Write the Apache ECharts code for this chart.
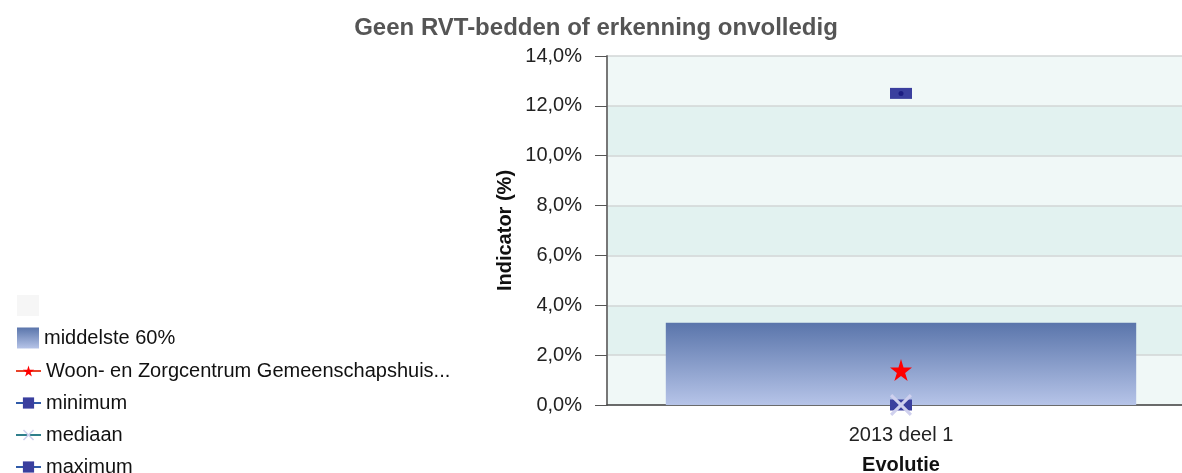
<!DOCTYPE html>
<html>
<head>
<meta charset="utf-8">
<script src="https://cdn.jsdelivr.net/npm/echarts@6/dist/echarts.min.js"></script>
<style>
  html, body { margin: 0; padding: 0; background: #fff; overflow: hidden; }
  #chart { width: 1182px; height: 473px; }
</style>
</head>
<body>
<div id="chart"></div>
<script>
// categorieën en waarden (in %)
const categories = ['2013 deel 1'];
const basis = [0];
const middelste60 = [3.3];
const instelling = [1.4];
const minimum = [0];
const mediaan = [0];
const maximum = [12.5];

const FONT = '"Liberation Sans", Arial, sans-serif';
const STAR = 'path://M50,0 L61,35 L98,35 L68,57 L79,91 L50,70 L21,91 L32,57 L2,35 L39,35 Z';
const CROSS = 'path://M0,10 L10,0 L50,40 L90,0 L100,10 L60,50 L100,90 L90,100 L50,60 L10,100 L0,90 L40,50 Z';

const chart = echarts.init(document.getElementById('chart'));

const legendText = { fontSize: 20, color: '#111', fontFamily: FONT };

chart.setOption({
  backgroundColor: '#fff',
  animation: false,
  textStyle: { fontFamily: FONT },
  title: {
    text: 'Geen RVT-bedden of erkenning onvolledig',
    left: 591,
    textAlign: 'center',
    top: 11,
    textStyle: { fontSize: 24, fontWeight: 'bold', color: '#555', fontFamily: FONT }
  },
  legend: [
    {
      // vlakken
      orient: 'vertical',
      left: 12,
      top: 290,
      itemWidth: 22,
      itemHeight: 21,
      itemGap: 11.5,
      icon: 'rect',
      textStyle: legendText,
      data: [' ', 'middelste 60%']
    },
    {
      // markeringen, de laatste valt half onder de rand
      orient: 'vertical',
      left: 10,
      top: 356,
      height: 160,
      itemWidth: 25,
      itemHeight: 14,
      itemGap: 12,
      textStyle: legendText,
      data: ['Woon- en Zorgcentrum Gemeenschapshuis...', 'minimum', 'mediaan', 'maximum']
    }
  ],
  // het plotvlak loopt rechts iets buiten beeld door
  grid: { left: 607, top: 56, width: 588, height: 349, outerBoundsMode: 'none' },
  xAxis: {
    type: 'category',
    data: categories,
    name: 'Evolutie',
    nameLocation: 'middle',
    nameGap: 50,
    nameTextStyle: { fontSize: 20, fontWeight: 'bold', color: '#111', fontFamily: FONT },
    axisLine: { lineStyle: { color: '#444', width: 1.5 } },
    axisTick: { alignWithLabel: true, length: 9, lineStyle: { color: '#666' } },
    axisLabel: { fontSize: 20, color: '#222', margin: 20, fontFamily: FONT }
  },
  yAxis: {
    type: 'value',
    min: 0,
    max: 14,
    interval: 2,
    name: 'Indicator (%)',
    nameLocation: 'middle',
    nameGap: 92,
    nameTextStyle: { fontSize: 20, fontWeight: 'bold', color: '#111', fontFamily: FONT },
    axisLine: { show: true, lineStyle: { color: '#777', width: 2 } },
    axisTick: { show: true, length: 12, lineStyle: { color: '#555' } },
    axisLabel: {
      fontSize: 20, color: '#222', margin: 25, fontFamily: FONT,
      formatter: v => v.toFixed(1).replace('.', ',') + '%'
    },
    splitLine: { lineStyle: { color: '#d2d6d6', width: 1.5 } },
    splitArea: { show: true, areaStyle: { color: ['#f0f8f7', '#e2f2f0'] } }
  },
  series: [
    {
      name: ' ',
      type: 'bar',
      stack: 'band',
      barWidth: '80%',
      data: basis,
      itemStyle: { color: '#f6f6f6' }
    },
    {
      name: 'middelste 60%',
      type: 'bar',
      stack: 'band',
      barWidth: '80%',
      data: middelste60,
      itemStyle: {
        color: new echarts.graphic.LinearGradient(0, 0, 0, 1, [
          { offset: 0, color: '#5a75ab' },
          { offset: 1, color: '#b6c4e8' }
        ])
      }
    },
    {
      name: 'Woon- en Zorgcentrum Gemeenschapshuis...',
      type: 'line',
      data: instelling,
      symbol: STAR,
      symbolSize: 22,
      itemStyle: { color: '#ff0000' },
      lineStyle: { color: '#e8442a', width: 2 },
      z: 5
    },
    {
      name: 'minimum',
      type: 'line',
      data: minimum,
      symbol: 'rect',
      symbolSize: [22, 11],
      itemStyle: { color: '#3a3f9e' },
      lineStyle: { color: '#2f5aa8', width: 2 },
      z: 5
    },
    {
      name: 'mediaan',
      type: 'line',
      data: mediaan,
      symbol: CROSS,
      symbolSize: 22,
      itemStyle: { color: '#cfd0ee' },
      lineStyle: { color: '#2f7f8c', width: 2 },
      z: 6
    },
    {
      name: 'maximum',
      type: 'line',
      data: maximum,
      symbol: 'rect',
      symbolSize: [22, 11],
      itemStyle: { color: '#3a3f9e' },
      lineStyle: { color: '#2f5aa8', width: 2 },
      z: 5
    },
    {
      // donker puntje midden in de maximum-markering
      name: 'maximum punt',
      type: 'scatter',
      data: maximum,
      symbol: 'circle',
      symbolSize: 5,
      itemStyle: { color: '#15157a' },
      z: 7
    }
  ]
});
</script>
</body>
</html>
